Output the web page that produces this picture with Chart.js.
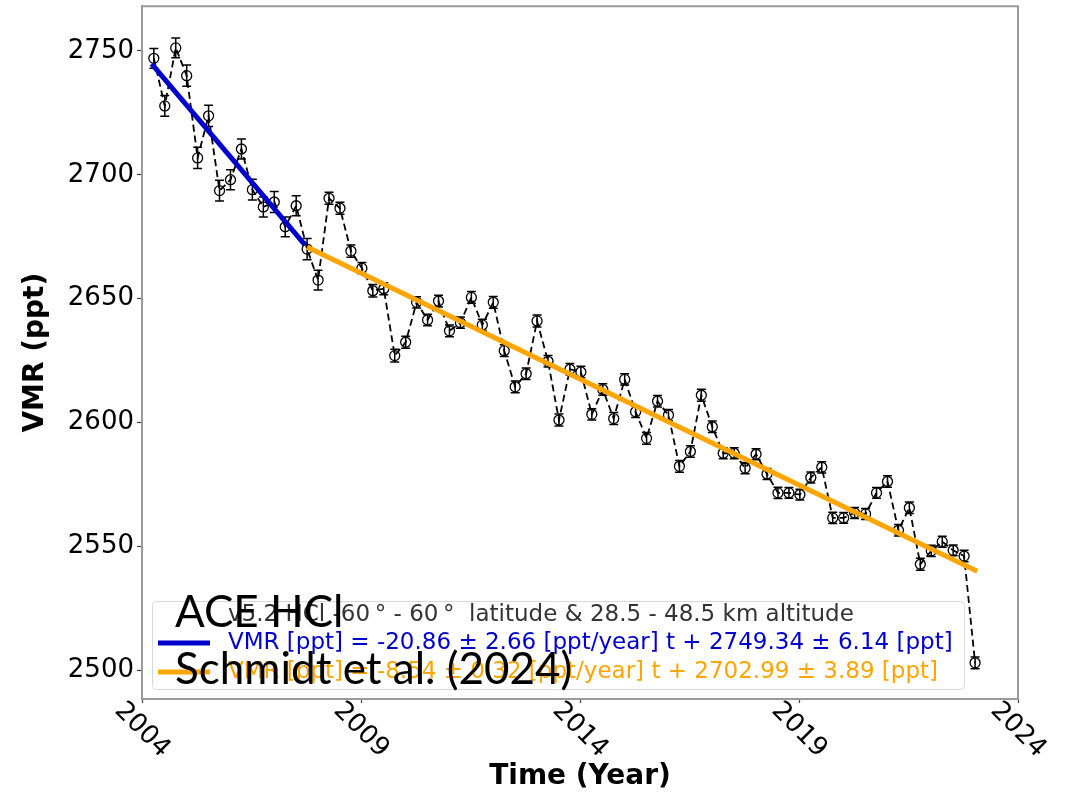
<!DOCTYPE html>
<html lang="en">
<head>
<meta charset="UTF-8">
<title>ACE HCl VMR trend</title>
<script src="https://cdn.jsdelivr.net/npm/chart.js"></script>
<style>
  body { margin: 0; background: #fff; }
  #wrap { position: relative; width: 1068px; height: 793px; }
  .note {
    position: absolute;
    left: 175px;
    font-family: Lato, "Liberation Sans Narrow", sans-serif;
    font-size: 44px;
    line-height: 1;
    color: #000;
    white-space: nowrap;
  }
</style>
</head>
<body>
<div id="wrap">
  <canvas id="hclChart" width="1068" height="793"></canvas>
  <div class="note" style="top:588px">ACE HCl</div>
  <div class="note" style="top:645px">Schmidt et al. (2024)</div>
</div>
<script>
// quarterly means, 60S-60N, 28.5-48.5 km
const years = [
  2004.27, 2004.52, 2004.77, 2005.02, 2005.27, 2005.52, 2005.77, 2006.02,
  2006.27, 2006.52, 2006.77, 2007.02, 2007.27, 2007.52, 2007.77, 2008.02,
  2008.27, 2008.52, 2008.77, 2009.02, 2009.27, 2009.52, 2009.77, 2010.02,
  2010.27, 2010.52, 2010.77, 2011.02, 2011.27, 2011.52, 2011.77, 2012.02,
  2012.27, 2012.52, 2012.77, 2013.02, 2013.27, 2013.52, 2013.77, 2014.02,
  2014.27, 2014.52, 2014.77, 2015.02, 2015.27, 2015.52, 2015.77, 2016.02,
  2016.27, 2016.52, 2016.77, 2017.02, 2017.27, 2017.52, 2017.77, 2018.02,
  2018.27, 2018.52, 2018.77, 2019.02, 2019.27, 2019.52, 2019.77, 2020.02,
  2020.27, 2020.52, 2020.77, 2021.02, 2021.27, 2021.52, 2021.77, 2022.02,
  2022.27, 2022.52, 2022.77, 2023.02
];
const vmr = [
  2747.0, 2727.8, 2751.2, 2740.0, 2706.8, 2723.8, 2693.6, 2698.0,
  2710.4, 2694.0, 2687.0, 2689.0, 2679.0, 2687.5, 2670.0, 2657.5,
  2690.5, 2686.5, 2669.2, 2662.3, 2653.2, 2654.0, 2627.0, 2632.4,
  2648.5, 2641.4, 2649.0, 2637.0, 2640.3, 2650.5, 2639.4, 2648.5,
  2629.0, 2614.4, 2619.7, 2641.0, 2624.7, 2601.0, 2621.5, 2620.4,
  2603.3, 2613.3, 2601.6, 2617.4, 2604.3, 2593.6, 2608.6, 2603.0,
  2582.3, 2588.3, 2611.0, 2598.3, 2587.6, 2587.6, 2581.6, 2587.2,
  2579.2, 2571.6, 2571.6, 2570.9, 2577.8, 2581.9, 2561.5, 2561.5,
  2563.5, 2563.1, 2571.6, 2576.2, 2556.5, 2565.6, 2542.8, 2548.2,
  2551.9, 2548.4, 2546.1, 2503.0
];
const vmrErr = [
  4.0, 4.2, 4.0, 4.3, 4.3, 4.3, 4.2, 4.0,
  4.0, 4.2, 4.0, 4.2, 4.0, 4.0, 4.3, 4.0,
  2.4, 2.4, 2.5, 2.3, 2.5, 2.4, 2.6, 2.4,
  2.3, 2.3, 2.4, 2.4, 2.3, 2.4, 2.3, 2.4,
  2.4, 2.4, 2.3, 2.4, 2.3, 2.4, 2.3, 2.3,
  2.3, 2.3, 2.4, 2.3, 2.3, 2.4, 2.3, 2.3,
  2.4, 2.3, 2.4, 2.3, 2.2, 2.2, 2.3, 2.2,
  2.2, 2.3, 2.2, 2.2, 2.2, 2.3, 2.3, 2.2,
  2.2, 2.2, 2.2, 2.3, 2.3, 2.3, 2.4, 2.3,
  2.2, 2.2, 2.3, 2.4
];

// linear fits, before and after 2008
const fitEarlyYears = [2004.22, 2007.72];
const fitEarlyVmr = [2744.8, 2671.7];
const fitLateYears = [2007.77, 2023.07];
const fitLateVmr = [2670.8, 2540.0];

const xTicks = [2004, 2009, 2014, 2019, 2024];
const yTicks = [2500, 2550, 2600, 2650, 2700, 2750];

const legendTitle = 'v5.2 HCl -60\u2009\u00b0 - 60\u2009\u00b0  latitude & 28.5 - 48.5 km altitude';
const fitLabels = [
  'VMR [ppt] = -20.86 \u00b1 2.66 [ppt/year] t + 2749.34 \u00b1 6.14 [ppt]',
  'VMR [ppt] = -8.54 \u00b1 0.32 [ppt/year] t + 2702.99 \u00b1 3.89 [ppt]'
];
const fitColors = ['#0000cd', '#ffa500'];

const toPoints = (xs, ys) => xs.map((x, i) => ({ x: x, y: ys[i] }));

const extras = {
  id: 'extras',
  beforeDatasetsDraw(chart) {
    const ctx = chart.ctx;
    const xs = chart.scales.x, ys = chart.scales.y;
    ctx.save();
    ctx.strokeStyle = '#000';
    ctx.lineWidth = 1.5;
    years.forEach((yr, i) => {
      const px = xs.getPixelForValue(yr);
      const top = ys.getPixelForValue(vmr[i] + vmrErr[i]);
      const bot = ys.getPixelForValue(vmr[i] - vmrErr[i]);
      ctx.beginPath();
      ctx.moveTo(px, top); ctx.lineTo(px, bot);
      ctx.moveTo(px - 4.5, top); ctx.lineTo(px + 4.5, top);
      ctx.moveTo(px - 4.5, bot); ctx.lineTo(px + 4.5, bot);
      ctx.stroke();
    });
    ctx.restore();
  },
  afterDraw(chart) {
    const ctx = chart.ctx;
    const a = chart.chartArea;
    const xs = chart.scales.x;
    ctx.save();

    // top and right spines
    ctx.strokeStyle = '#9a9a9a';
    ctx.lineWidth = 2;
    ctx.beginPath();
    ctx.moveTo(a.left, a.top); ctx.lineTo(a.right, a.top); ctx.lineTo(a.right, a.bottom);
    ctx.stroke();

    // slanted year labels
    ctx.fillStyle = '#000';
    ctx.font = '26px "DejaVu Sans"';
    ctx.textAlign = 'center';
    ctx.textBaseline = 'middle';
    xTicks.forEach(t => {
      ctx.save();
      ctx.translate(xs.getPixelForValue(t), a.bottom + 31);
      ctx.rotate(Math.PI / 4);
      ctx.fillText(String(t), 0, 0);
      ctx.restore();
    });

    // axis titles
    ctx.font = 'bold 28px "DejaVu Sans"';
    ctx.fillText('Time (Year)', (a.left + a.right) / 2, 777);
    ctx.save();
    ctx.translate(36, (a.top + a.bottom) / 2);
    ctx.rotate(-Math.PI / 2);
    ctx.fillText('VMR (ppt)', 0, 0);
    ctx.restore();

    // legend
    ctx.fillStyle = 'rgba(255,255,255,0.8)';
    ctx.strokeStyle = '#d8d8d8';
    ctx.lineWidth = 1;
    ctx.beginPath();
    ctx.roundRect(152.5, 601.5, 812, 88, 4);
    ctx.fill();
    ctx.stroke();

    ctx.textAlign = 'left';
    ctx.font = '23px "DejaVu Sans"';
    ctx.fillStyle = '#333';
    ctx.fillText(legendTitle, 228, 615);
    fitLabels.forEach((lbl, i) => {
      const y = 643 + i * 29;
      ctx.strokeStyle = fitColors[i];
      ctx.lineWidth = 5;
      ctx.beginPath();
      ctx.moveTo(158, y); ctx.lineTo(210, y);
      ctx.stroke();
      ctx.fillStyle = fitColors[i];
      ctx.fillText(lbl, 228, y);
    });
    ctx.restore();
  }
};

new Chart(document.getElementById('hclChart'), {
  type: 'scatter',
  data: {
    datasets: [
      {
        data: toPoints(years, vmr),
        showLine: true,
        borderColor: '#000',
        borderWidth: 1.8,
        borderDash: [7, 4],
        pointRadius: 5,
        pointBorderWidth: 1.3,
        pointBorderColor: '#000',
        pointBackgroundColor: 'rgba(0,0,0,0)',
        order: 2
      },
      {
        data: toPoints(fitEarlyYears, fitEarlyVmr),
        showLine: true,
        borderColor: fitColors[0],
        borderWidth: 5,
        pointRadius: 0,
        order: 1
      },
      {
        data: toPoints(fitLateYears, fitLateVmr),
        showLine: true,
        borderColor: fitColors[1],
        borderWidth: 5,
        pointRadius: 0,
        order: 1
      }
    ]
  },
  options: {
    responsive: false,
    animation: false,
    devicePixelRatio: 1,
    layout: { padding: { top: 2, right: 50, left: 0, bottom: 0 } },
    plugins: { legend: { display: false }, tooltip: { enabled: false } },
    scales: {
      x: {
        type: 'linear',
        min: 2004,
        max: 2024,
        afterBuildTicks: s => { s.ticks = xTicks.map(v => ({ value: v })); },
        afterFit: s => { s.height = 94; s.paddingLeft = 0; s.paddingRight = 0; },
        ticks: { display: false },
        grid: { display: true, drawOnChartArea: false, tickLength: 4, tickColor: '#444', tickWidth: 1.2 },
        border: { display: true, color: '#9a9a9a', width: 2 }
      },
      y: {
        min: 2488.4,
        max: 2768,
        afterBuildTicks: s => { s.ticks = yTicks.map(v => ({ value: v })); },
        afterFit: s => { s.width = 142; s.paddingTop = 0; s.paddingBottom = 0; },
        ticks: {
          color: '#000',
          font: { family: 'DejaVu Sans', size: 26 },
          padding: 3,
          callback: v => String(v)
        },
        grid: { display: true, drawOnChartArea: false, tickLength: 5, tickColor: '#444', tickWidth: 1.2 },
        border: { display: true, color: '#9a9a9a', width: 2 }
      }
    }
  },
  plugins: [extras]
});
</script>
</body>
</html>
